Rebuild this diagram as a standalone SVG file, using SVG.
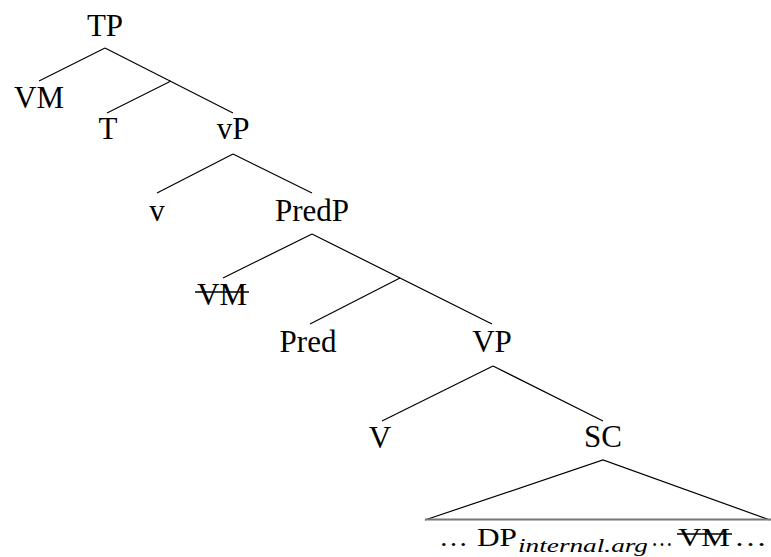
<svg xmlns="http://www.w3.org/2000/svg" width="771" height="557" viewBox="0 0 771 557">
<style>
.lbl{font-family:"Liberation Serif","Times New Roman",serif;font-size:31px;fill:#000;text-anchor:middle}
.bot{font-family:"Liberation Serif","Times New Roman",serif;font-size:26px;fill:#000}
.sub{font-family:"Liberation Serif","Times New Roman",serif;font-size:19px;font-style:italic;fill:#000}
.edge{stroke:#000;stroke-width:1.2;fill:none}
.strike{stroke:#000;stroke-width:1.5}
</style>
<rect width="771" height="557" fill="#fff"/>
<g id="connectors">
<line class="edge" x1="105" y1="48" x2="39" y2="81"/>
<line class="edge" x1="105" y1="48" x2="233" y2="113"/>
<line class="edge" x1="171" y1="81" x2="107" y2="113"/>
<line class="edge" x1="233" y1="154" x2="157" y2="193"/>
<line class="edge" x1="233" y1="154" x2="312" y2="193"/>
<line class="edge" x1="312" y1="234" x2="223" y2="278"/>
<line class="edge" x1="312" y1="234" x2="492" y2="324"/>
<line class="edge" x1="400" y1="278" x2="310" y2="324"/>
<line class="edge" x1="493" y1="366" x2="382" y2="421"/>
<line class="edge" x1="493" y1="366" x2="603" y2="421"/>
<polyline class="edge" points="425,520 603,460 770,520"/>
<line x1="425" y1="519.5" x2="771" y2="519.5" stroke="#777" stroke-width="2"/>
</g>
<g id="n-TP"><text class="lbl" x="105" y="36">TP</text></g>
<g id="n-VM"><text class="lbl" x="39" y="108">VM</text></g>
<g id="n-T"><text class="lbl" x="108" y="139">T</text></g>
<g id="n-vP"><text class="lbl" x="233" y="139">vP</text></g>
<g id="n-v"><text class="lbl" x="157" y="221">v</text></g>
<g id="n-PredP"><text class="lbl" x="312" y="221">PredP</text></g>
<g id="n-VMtrace"><text class="lbl" x="222" y="305">VM</text><line class="strike" x1="195" y1="292" x2="249" y2="292"/></g>
<g id="n-Pred"><text class="lbl" x="308" y="352">Pred</text></g>
<g id="n-VP"><text class="lbl" x="492" y="352">VP</text></g>
<g id="n-V"><text class="lbl" x="380" y="448">V</text></g>
<g id="n-SC"><text class="lbl" x="603" y="447">SC</text></g>
<g id="n-SCcontent">
<text class="bot" x="439" y="546" textLength="29" lengthAdjust="spacingAndGlyphs">…</text>
<text class="bot" x="477" y="546" textLength="40" lengthAdjust="spacingAndGlyphs">DP</text>
<text class="sub" x="518" y="552" textLength="130" lengthAdjust="spacingAndGlyphs">internal.arg</text>
<text class="bot" x="651" y="546" textLength="22" lengthAdjust="spacingAndGlyphs">…</text>
<text class="bot" x="678" y="546" textLength="52" lengthAdjust="spacingAndGlyphs">VM</text>
<line class="strike" x1="677" y1="534" x2="732" y2="534"/>
<text class="bot" x="734" y="546" textLength="33" lengthAdjust="spacingAndGlyphs">…</text>
</g>
</svg>
